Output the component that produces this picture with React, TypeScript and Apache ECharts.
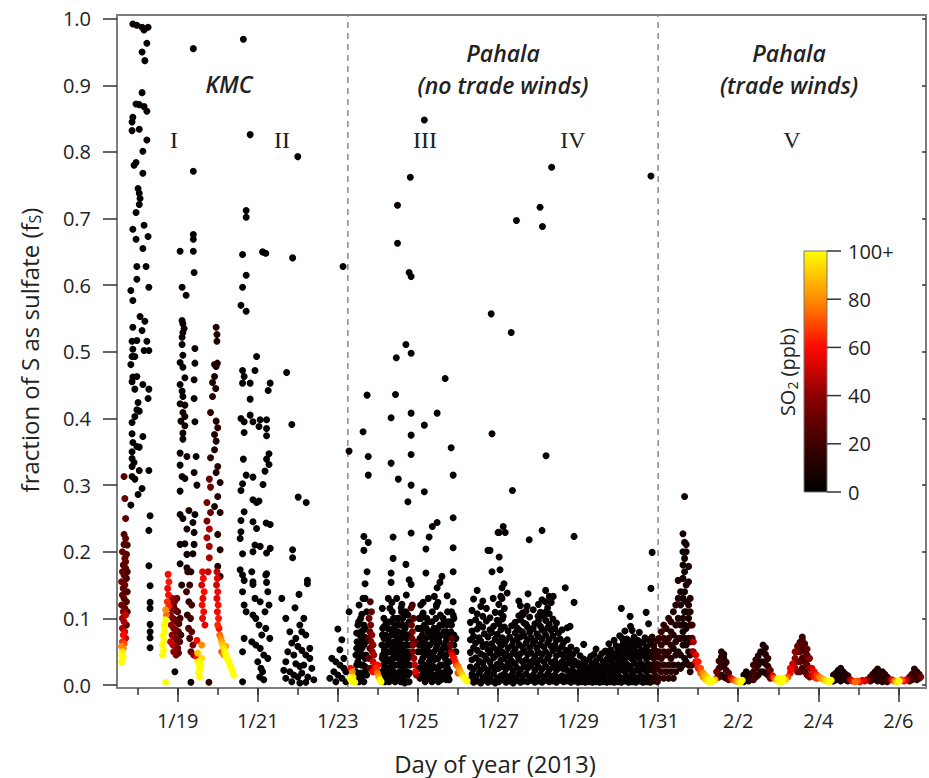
import React, { useEffect, useRef } from "react";
import * as echarts from "echarts";

// ---------- axis ticks & labels ----------
const xMajorDays = [19, 21, 23, 25, 27, 29, 31, 33, 35, 37];
const xMajorLabels = ["1/19", "1/21", "1/23", "1/25", "1/27", "1/29", "1/31", "2/2", "2/4", "2/6"];
const xMinorDays = [18, 19, 20, 21, 22, 23, 24, 25, 26, 27, 28, 29, 30, 31, 32, 33, 34, 35, 36, 37];
const yTickValues = [0, 0.1, 0.2, 0.3, 0.4, 0.5, 0.6, 0.7, 0.8, 0.9, 1.0];
const so2TickValues = [0, 20, 40, 60, 80, 100];
const so2TickLabels = ["0", "20", "40", "60", "80", "100+"];
const periodBoundaries = [23.25, 31.0];

// ---------- data: rows of [day of year, SO2 (ppb), fS, fS, ...] ----------
const kmcColumn = [
  [17.83, 2, 0.592, 0.481, 0.27],
  [17.86, 2, 0.845, 0.832, 0.516, 0.493, 0.455, 0.394, 0.377, 0.35, 0.34, 0.328, 0.313],
  [17.88, 2, 0.992, 0.852, 0.684, 0.577, 0.537, 0.504, 0.462, 0.364],
  [17.91, 2, 0.78, 0.334],
  [17.93, 2, 0.493, 0.444, 0.403, 0.309],
  [17.96, 2, 0.872, 0.784, 0.709, 0.669],
  [17.98, 2, 0.99, 0.628, 0.609, 0.517, 0.463, 0.413, 0.358],
  [18.01, 2, 0.745, 0.424, 0.286],
  [18.04, 2, 0.871, 0.834, 0.738, 0.721, 0.411, 0.357, 0.322],
  [18.06, 2, 0.73, 0.553],
  [18.11, 2, 0.987, 0.95, 0.889, 0.532, 0.295],
  [18.13, 2, 0.801, 0.768, 0.655, 0.451, 0.373],
  [18.16, 2, 0.983, 0.868, 0.69, 0.502],
  [18.18, 2, 0.937, 0.546],
  [18.21, 2, 0.628],
  [18.23, 2, 0.963, 0.861, 0.818, 0.516],
  [18.26, 2, 0.987, 0.673, 0.43],
  [18.28, 2, 0.597, 0.502, 0.444, 0.322, 0.232, 0.179],
  [18.31, 2, 0.254, 0.149, 0.124, 0.115, 0.091, 0.08, 0.071, 0.056],
  [17.62, 30, 0.2, 0.17, 0.135],
  [17.64, 28, 0.18, 0.145],
  [17.66, 25, 0.313, 0.226, 0.211, 0.165, 0.13],
  [17.68, 30, 0.28, 0.19, 0.15, 0.115],
  [17.7, 24, 0.175, 0.14],
  [17.7, 28, 0.25, 0.22, 0.185],
  [17.72, 24, 0.196, 0.16, 0.125, 0.09],
  [17.74, 20, 0.21, 0.17, 0.14, 0.11],
  [17.6, 32, 0.155, 0.12],
  [17.62, 42, 0.1, 0.085],
  [17.64, 40, 0.11],
  [17.66, 45, 0.095],
  [17.68, 55, 0.08],
  [17.7, 50, 0.105, 0.07],
  [17.64, 60, 0.075],
  [17.62, 65, 0.065],
  [17.66, 70, 0.062],
  [17.6, 80, 0.058],
  [17.64, 78, 0.055],
  [17.62, 95, 0.05],
  [17.6, 100, 0.045, 0.034],
  [17.64, 100, 0.042],
  [17.62, 100, 0.038],
];

const kmcPeriodI = [
  [19.06, 3, 0.651, 0.484, 0.451, 0.422, 0.348, 0.33, 0.291, 0.256, 0.211, 0.182],
  [19.08, 3, 0.396],
  [19.11, 3, 0.597, 0.547, 0.522, 0.511, 0.441, 0.313],
  [19.13, 3, 0.542, 0.529, 0.495, 0.477, 0.433, 0.409, 0.378, 0.369, 0.25],
  [19.16, 3, 0.535],
  [19.18, 5, 0.461, 0.42, 0.403, 0.389, 0.31, 0.212],
  [19.21, 3, 0.585],
  [19.23, 8, 0.343, 0.234, 0.196, 0.176],
  [19.28, 8, 0.262],
  [19.33, 8, 0.17],
  [19.38, 3, 0.244, 0.197],
  [19.39, 2, 0.955, 0.771, 0.676, 0.669, 0.651],
  [19.41, 3, 0.619, 0.458, 0.43, 0.319, 0.229, 0.211],
  [19.43, 3, 0.505, 0.483, 0.395, 0.256],
  [19.46, 3, 0.343],
  [19.48, 3, 0.3],
  [18.74, 65, 0.125],
  [18.75, 58, 0.145],
  [18.76, 60, 0.166],
  [18.77, 60, 0.135],
  [18.78, 62, 0.155, 0.118],
  [18.7, 80, 0.113],
  [18.72, 75, 0.105],
  [18.7, 100, 0.098, 0.004],
  [18.66, 100, 0.09, 0.068],
  [18.68, 100, 0.082],
  [18.64, 100, 0.075],
  [18.62, 100, 0.06, 0.045],
  [18.65, 100, 0.052],
  [18.8, 40, 0.12],
  [18.82, 38, 0.105],
  [18.82, 50, 0.065],
  [18.84, 42, 0.09],
  [18.85, 35, 0.115],
  [18.86, 40, 0.075, 0.13],
  [18.88, 33, 0.1],
  [18.88, 45, 0.06],
  [18.9, 30, 0.118],
  [18.9, 36, 0.085],
  [18.9, 40, 0.05],
  [18.92, 35, 0.072, 0.125],
  [18.93, 30, 0.098],
  [18.94, 38, 0.058],
  [18.95, 28, 0.112],
  [18.96, 30, 0.082],
  [18.96, 35, 0.045],
  [18.98, 26, 0.095],
  [18.98, 30, 0.068, 0.13],
  [19.0, 25, 0.11],
  [19.0, 30, 0.055],
  [19.02, 25, 0.08],
  [19.02, 28, 0.048],
  [19.03, 22, 0.092],
  [19.05, 22, 0.065],
  [19.06, 20, 0.1],
  [19.08, 18, 0.075],
  [18.93, 3, 0.02],
  [19.33, 3, 0.004],
  [19.1, 10, 0.15],
  [19.22, 20, 0.14],
  [19.24, 18, 0.105],
  [19.25, 15, 0.17],
  [19.27, 25, 0.085],
  [19.28, 15, 0.125],
  [19.3, 18, 0.15],
  [19.3, 22, 0.07],
  [19.32, 20, 0.1],
  [19.33, 30, 0.05],
  [19.35, 22, 0.12],
  [19.35, 28, 0.08],
  [19.38, 35, 0.06],
  [19.4, 40, 0.045],
  [19.48, 60, 0.067, 0.042],
  [19.5, 100, 0.035],
  [19.53, 100, 0.028],
  [19.56, 100, 0.022],
  [19.52, 100, 0.018],
  [19.58, 100, 0.03],
  [19.55, 100, 0.012],
  [19.6, 95, 0.04],
  [19.5, 90, 0.048],
  [19.6, 80, 0.06],
  [19.62, 55, 0.17, 0.1],
  [19.64, 58, 0.16],
  [19.6, 52, 0.15],
  [19.66, 60, 0.14],
  [19.63, 56, 0.13],
  [19.61, 60, 0.12],
  [19.65, 58, 0.11],
  [19.68, 55, 0.09],
  [19.78, 15, 0.004],
  [19.96, 10, 0.537, 0.478, 0.396, 0.366, 0.319],
  [19.98, 10, 0.526, 0.516],
  [19.92, 10, 0.481, 0.463, 0.376, 0.353, 0.268],
  [19.99, 10, 0.483],
  [19.87, 12, 0.454, 0.433],
  [19.95, 10, 0.445],
  [19.82, 15, 0.409, 0.341],
  [20.0, 12, 0.386, 0.328, 0.283, 0.226, 0.178],
  [19.79, 30, 0.309],
  [20.06, 12, 0.304, 0.259, 0.203, 0.163],
  [19.82, 30, 0.297, 0.259],
  [19.73, 35, 0.274, 0.246],
  [19.79, 45, 0.234, 0.208, 0.191],
  [19.73, 45, 0.221],
  [19.76, 50, 0.17],
  [19.98, 50, 0.17],
  [19.99, 55, 0.16],
  [19.97, 52, 0.15],
  [20.0, 58, 0.14],
  [19.98, 55, 0.13],
  [20.01, 60, 0.12],
  [19.99, 58, 0.11],
  [20.02, 62, 0.1],
  [20.0, 65, 0.09],
  [20.03, 60, 0.085],
  [20.05, 75, 0.075],
  [20.08, 80, 0.07],
  [20.1, 85, 0.065],
  [20.12, 90, 0.06],
  [20.15, 95, 0.055],
  [20.18, 100, 0.05],
  [20.2, 100, 0.045],
  [20.22, 100, 0.042],
  [20.25, 100, 0.038],
  [20.28, 100, 0.035],
  [20.3, 100, 0.03],
  [20.33, 100, 0.026],
  [20.36, 100, 0.022],
  [20.4, 100, 0.015],
  [20.1, 70, 0.05],
  [20.14, 80, 0.046],
  [20.2, 85, 0.058],
];

const kmcPeriodII = [
  [20.56, 2, 0.22, 0.173],
  [20.58, 2, 0.57, 0.4, 0.292, 0.247, 0.23],
  [20.62, 2, 0.646, 0.597, 0.472, 0.453, 0.302, 0.197, 0.165, 0.14, 0.05, 0.005],
  [20.64, 2, 0.969, 0.339],
  [20.66, 2, 0.463, 0.395, 0.379, 0.26, 0.157, 0.12, 0.07],
  [20.71, 2, 0.712, 0.702, 0.615, 0.561, 0.315, 0.11],
  [20.81, 2, 0.826, 0.453, 0.429, 0.405],
  [20.85, 2, 0.17, 0.065],
  [20.88, 2, 0.395, 0.312, 0.278, 0.245, 0.2, 0.151, 0.155, 0.105],
  [20.93, 2, 0.472, 0.21, 0.13],
  [20.95, 2, 0.1, 0.06],
  [20.97, 2, 0.493, 0.274, 0.235],
  [21.0, 2, 0.035],
  [21.03, 2, 0.388, 0.276, 0.09],
  [21.05, 2, 0.012],
  [21.06, 2, 0.398, 0.208, 0.125, 0.055],
  [21.08, 2, 0.025],
  [21.1, 2, 0.075],
  [21.12, 2, 0.65, 0.02],
  [21.13, 2, 0.301],
  [21.15, 2, 0.045, 0.008],
  [21.18, 2, 0.321, 0.11],
  [21.2, 2, 0.648, 0.165, 0.085],
  [21.21, 2, 0.243],
  [21.22, 2, 0.398, 0.385, 0.374, 0.339, 0.198, 0.167, 0.154],
  [21.25, 2, 0.14, 0.04],
  [21.26, 2, 0.442],
  [21.28, 2, 0.347, 0.331, 0.12],
  [21.3, 2, 0.07],
  [21.31, 2, 0.453, 0.241, 0.205],
  [21.72, 2, 0.469],
  [21.85, 2, 0.391],
  [21.87, 2, 0.641, 0.203, 0.191],
  [22.0, 2, 0.793],
  [22.01, 2, 0.282],
  [22.21, 2, 0.274],
  [22.24, 2, 0.157],
  [21.6, 2, 0.13],
  [21.65, 2, 0.022],
  [21.7, 2, 0.1, 0.035, 0.01],
  [21.75, 2, 0.05],
  [21.8, 2, 0.08, 0.02],
  [21.85, 2, 0.063, 0.005],
  [21.9, 2, 0.045, 0.015],
  [21.93, 2, 0.116],
  [21.95, 2, 0.07, 0.032],
  [22.0, 2, 0.058, 0.012],
  [22.03, 2, 0.136],
  [22.05, 2, 0.09, 0.028, 0.003],
  [22.1, 2, 0.08, 0.052, 0.018],
  [22.15, 2, 0.1, 0.03],
  [22.2, 2, 0.075, 0.045, 0.004],
  [22.24, 2, 0.152],
  [22.25, 2, 0.012],
  [22.3, 2, 0.055, 0.04],
  [22.35, 2, 0.025],
  [22.4, 2, 0.008],
  [22.8, 2, 0.01],
  [22.85, 2, 0.04],
  [22.9, 2, 0.02],
  [22.95, 2, 0.035, 0.005],
  [23.0, 2, 0.084, 0.015],
  [23.05, 2, 0.053, 0.03],
  [23.1, 2, 0.068, 0.01],
  [23.13, 2, 0.628],
  [23.15, 2, 0.04, 0.025],
  [23.2, 2, 0.02, 0.005],
];

const pahalaNoTradeSparse = [
  [23.28, 2, 0.351, 0.11],
  [23.6, 2, 0.106],
  [23.63, 2, 0.38],
  [23.65, 2, 0.223, 0.202],
  [23.68, 2, 0.152, 0.13],
  [23.73, 2, 0.435, 0.17],
  [23.76, 2, 0.343, 0.315, 0.214],
  [24.3, 2, 0.115],
  [24.33, 2, 0.401, 0.333, 0.168, 0.154],
  [24.35, 2, 0.124],
  [24.38, 2, 0.222, 0.19],
  [24.44, 2, 0.436],
  [24.46, 2, 0.491],
  [24.49, 2, 0.72, 0.663],
  [24.51, 2, 0.309],
  [24.58, 2, 0.116],
  [24.6, 2, 0.121],
  [24.7, 2, 0.511, 0.181],
  [24.75, 2, 0.275],
  [24.78, 2, 0.619, 0.158],
  [24.81, 2, 0.762],
  [24.83, 2, 0.613, 0.498, 0.408, 0.375, 0.346, 0.3, 0.228, 0.151],
  [24.83, 25, 0.116],
  [25.13, 2, 0.124, 0.108],
  [25.16, 2, 0.848, 0.39, 0.29],
  [25.2, 2, 0.204, 0.168],
  [25.28, 2, 0.222],
  [25.36, 2, 0.238],
  [25.41, 2, 0.133],
  [25.46, 2, 0.12],
  [25.48, 2, 0.408, 0.244, 0.146],
  [25.5, 2, 0.124],
  [25.55, 2, 0.154],
  [25.6, 2, 0.163],
  [25.68, 2, 0.46],
  [25.73, 2, 0.134],
  [25.82, 2, 0.08, 0.095],
  [25.83, 2, 0.356],
  [25.84, 2, 0.09, 0.11],
  [25.88, 2, 0.315, 0.251, 0.206, 0.17, 0.125, 0.105],
  [25.9, 2, 0.06, 0.075, 0.1],
  [25.95, 2, 0.05, 0.07],
  [26.75, 2, 0.202],
  [26.8, 2, 0.202],
  [26.83, 2, 0.557],
  [26.85, 2, 0.377, 0.17],
  [26.88, 2, 0.13],
  [26.93, 2, 0.109],
  [27.0, 2, 0.229],
  [27.03, 2, 0.229, 0.192],
  [27.05, 2, 0.173],
  [27.1, 2, 0.146, 0.13, 0.086],
  [27.13, 2, 0.238, 0.103],
  [27.15, 2, 0.152],
  [27.18, 2, 0.229],
  [27.23, 2, 0.138],
  [27.33, 2, 0.529],
  [27.36, 2, 0.292],
  [27.46, 2, 0.697],
  [27.63, 2, 0.106],
  [27.73, 2, 0.118],
  [27.75, 2, 0.137],
  [27.78, 2, 0.218],
  [28.0, 2, 0.103],
  [28.05, 2, 0.717],
  [28.1, 2, 0.232, 0.104],
  [28.11, 2, 0.688],
  [28.18, 2, 0.125],
  [28.2, 2, 0.344, 0.11],
  [28.28, 2, 0.133],
  [28.34, 2, 0.777],
  [28.38, 2, 0.133],
  [28.68, 2, 0.146],
  [28.73, 2, 0.086],
  [28.8, 2, 0.088],
  [28.9, 2, 0.223, 0.124],
  [29.4, 2, 0.046],
  [29.73, 2, 0.05],
  [30.0, 2, 0.05],
  [30.08, 2, 0.115],
  [30.1, 2, 0.07],
  [30.3, 2, 0.103],
  [30.35, 2, 0.082],
  [30.38, 2, 0.062],
  [30.7, 2, 0.109],
  [30.82, 2, 0.764, 0.145],
  [30.85, 2, 0.199, 0.068],
];

const pahalaNoTradeDenseA = [
  [23.3, 100, 0.01],
  [23.32, 60, 0.025],
  [23.34, 100, 0.006],
  [23.36, 80, 0.02],
  [23.38, 95, 0.012],
  [23.42, 100, 0.004],
  [23.45, 2, 0.02, 0.045],
  [23.47, 2, 0.03, 0.055, 0.078],
  [23.48, 2, 0.065, 0.008],
  [23.5, 2, 0.035, 0.09],
  [23.52, 2, 0.095, 0.015],
  [23.53, 2, 0.005, 0.042, 0.062, 0.12],
  [23.55, 2, 0.012, 0.05, 0.075],
  [23.57, 2, 0.018, 0.066, 0.1],
  [23.58, 2, 0.08, 0.03],
  [23.6, 2, 0.012, 0.055],
  [23.62, 2, 0.03, 0.07],
  [23.63, 2, 0.044, 0.082, 0.13],
  [23.65, 2, 0.06, 0.005, 0.09],
  [23.67, 2, 0.028, 0.072],
  [23.68, 2, 0.085, 0.04, 0.02],
  [23.7, 2, 0.045, 0.065],
  [23.72, 2, 0.015, 0.11],
  [23.76, 25, 0.07],
  [23.78, 30, 0.1, 0.04],
  [23.8, 30, 0.08, 0.025],
  [23.8, 28, 0.055],
  [23.81, 22, 0.125],
  [23.82, 35, 0.09],
  [23.83, 35, 0.065],
  [23.84, 28, 0.11],
  [23.85, 38, 0.075],
  [23.86, 42, 0.05],
  [23.87, 60, 0.02],
  [23.88, 40, 0.06],
  [23.88, 50, 0.035],
  [23.9, 45, 0.045],
  [23.92, 55, 0.03],
  [23.96, 65, 0.025],
  [23.99, 75, 0.018],
  [24.0, 60, 0.03],
  [24.02, 85, 0.012],
  [24.05, 100, 0.008],
  [24.08, 100, 0.005],
  [24.1, 2, 0.02, 0.06],
  [24.11, 2, 0.04, 0.075, 0.115],
  [24.12, 2, 0.045, 0.085],
  [24.14, 2, 0.012, 0.03],
  [24.15, 2, 0.07, 0.1],
  [24.16, 2, 0.022, 0.052, 0.088],
  [24.18, 2, 0.005, 0.04],
  [24.2, 2, 0.035, 0.075],
  [24.21, 2, 0.008, 0.048, 0.095],
  [24.22, 2, 0.06, 0.015],
  [24.25, 2, 0.085, 0.025, 0.05],
  [24.26, 2, 0.015, 0.038, 0.072, 0.13],
  [24.28, 2, 0.005, 0.025, 0.065],
  [24.3, 2, 0.05, 0.095],
  [24.31, 2, 0.012, 0.035, 0.063],
  [24.33, 2, 0.075, 0.015],
  [24.35, 2, 0.028, 0.058, 0.082],
  [24.36, 2, 0.015, 0.04, 0.11],
  [24.38, 2, 0.04, 0.06],
  [24.39, 2, 0.02, 0.05, 0.1],
  [24.4, 2, 0.065, 0.01, 0.085],
  [24.42, 2, 0.09, 0.03],
  [24.43, 2, 0.005, 0.045, 0.075],
  [24.45, 2, 0.008, 0.05],
  [24.46, 2, 0.03, 0.075],
  [24.47, 2, 0.015, 0.042, 0.066, 0.13],
  [24.48, 2, 0.055, 0.1],
  [24.5, 2, 0.08, 0.018],
  [24.51, 2, 0.03, 0.06, 0.09],
  [24.52, 2, 0.1, 0.04],
  [24.54, 2, 0.008, 0.05, 0.078],
  [24.55, 2, 0.02, 0.065],
  [24.57, 2, 0.045, 0.005],
  [24.58, 2, 0.07, 0.09],
  [24.59, 2, 0.014, 0.038, 0.058, 0.11],
  [24.6, 2, 0.09, 0.03],
  [24.62, 2, 0.025, 0.072, 0.1],
  [24.63, 2, 0.01, 0.055],
  [24.65, 2, 0.035, 0.08],
  [24.66, 2, 0.06, 0.105],
  [24.67, 2, 0.003, 0.045, 0.075],
  [24.68, 2, 0.085, 0.015],
  [24.7, 2, 0.11, 0.045],
  [24.71, 2, 0.03, 0.06, 0.09, 0.135],
  [24.72, 2, 0.02, 0.07],
  [24.74, 2, 0.05, 0.005],
  [24.75, 2, 0.015, 0.04, 0.105],
  [24.76, 2, 0.075, 0.03],
  [24.78, 2, 0.005, 0.095],
  [24.79, 2, 0.018, 0.045, 0.075],
  [24.8, 2, 0.03, 0.06],
  [24.84, 30, 0.09],
  [24.85, 32, 0.07],
  [24.86, 35, 0.08],
  [24.86, 20, 0.12],
  [24.87, 35, 0.05],
  [24.88, 38, 0.06],
  [24.89, 25, 0.1],
  [24.9, 42, 0.04],
  [24.92, 48, 0.03],
  [24.92, 30, 0.065],
  [24.94, 55, 0.02],
  [24.96, 40, 0.015],
  [25.0, 2, 0.05, 0.085],
  [25.03, 2, 0.025, 0.06, 0.1],
  [25.05, 2, 0.01, 0.07],
  [25.07, 2, 0.05, 0.085, 0.12],
  [25.08, 2, 0.035, 0.1],
  [25.1, 2, 0.06, 0.015],
  [25.11, 2, 0.025, 0.075, 0.105],
  [25.12, 2, 0.085, 0.04],
  [25.15, 2, 0.02, 0.065],
  [25.16, 2, 0.01, 0.055, 0.09],
  [25.18, 2, 0.045, 0.005],
  [25.2, 2, 0.07, 0.03],
  [25.21, 2, 0.015, 0.045, 0.085],
  [25.22, 2, 0.1, 0.055],
  [25.25, 2, 0.012, 0.08],
  [25.26, 2, 0.025, 0.05, 0.095, 0.13],
  [25.28, 2, 0.035, 0.06],
  [25.3, 2, 0.06, 0.01],
  [25.31, 2, 0.02, 0.045, 0.075],
  [25.32, 2, 0.08, 0.04],
  [25.35, 2, 0.005, 0.025, 0.095],
  [25.36, 2, 0.045, 0.07, 0.11],
  [25.38, 2, 0.028, 0.065],
  [25.4, 2, 0.05, 0.085],
  [25.41, 2, 0.012, 0.038, 0.07],
  [25.43, 2, 0.075, 0.015],
  [25.45, 2, 0.1, 0.04],
  [25.46, 2, 0.025, 0.055, 0.08, 0.118],
  [25.48, 2, 0.015, 0.06],
  [25.5, 2, 0.04, 0.085],
  [25.51, 2, 0.005, 0.025, 0.07],
  [25.53, 2, 0.065, 0.01],
  [25.55, 2, 0.09, 0.03],
  [25.56, 2, 0.018, 0.045, 0.075, 0.105],
  [25.58, 2, 0.008, 0.05],
  [25.6, 2, 0.03, 0.075],
  [25.61, 2, 0.012, 0.045, 0.09],
  [25.63, 2, 0.055, 0.1],
  [25.65, 2, 0.08, 0.015],
  [25.66, 2, 0.03, 0.06, 0.095],
  [25.68, 2, 0.02, 0.04],
  [25.7, 2, 0.045, 0.065],
  [25.71, 2, 0.008, 0.03, 0.08],
  [25.72, 2, 0.07, 0.09],
  [25.74, 2, 0.025, 0.055, 0.11],
  [25.75, 2, 0.012, 0.035],
  [25.76, 2, 0.095, 0.055],
  [25.78, 2, 0.035, 0.008],
  [25.79, 2, 0.02, 0.05, 0.075],
  [25.8, 30, 0.06],
  [25.83, 45, 0.05],
  [25.85, 25, 0.07],
  [25.86, 55, 0.045],
  [25.9, 60, 0.04],
  [25.93, 62, 0.035],
  [25.96, 68, 0.03],
  [26.0, 75, 0.028],
  [26.0, 70, 0.018],
  [26.03, 80, 0.024],
  [26.06, 85, 0.02],
  [26.1, 90, 0.016],
  [26.13, 95, 0.013],
  [26.16, 100, 0.01],
  [26.2, 100, 0.008],
  [26.23, 100, 0.006],
];

const pahalaNoTradeDenseB = [
  [26.31, 2, 0.008, 0.027, 0.049, 0.068, 0.094],
  [26.35, 2, 0.016, 0.038, 0.081, 0.112],
  [26.39, 2, 0.004, 0.024, 0.056, 0.073, 0.129],
  [26.44, 2, 0.013, 0.041, 0.063, 0.098],
  [26.48, 2, 0.006, 0.029, 0.052, 0.084, 0.107, 0.142],
  [26.53, 2, 0.018, 0.036, 0.071, 0.091],
  [26.57, 2, 0.003, 0.022, 0.047, 0.066, 0.118],
  [26.62, 2, 0.011, 0.033, 0.058, 0.087, 0.103, 0.126],
  [26.66, 2, 0.007, 0.026, 0.044, 0.077],
  [26.71, 2, 0.015, 0.039, 0.061, 0.096, 0.115],
  [26.75, 2, 0.004, 0.021, 0.053, 0.072],
  [26.8, 2, 0.012, 0.034, 0.048, 0.083, 0.101],
  [26.84, 2, 0.006, 0.027, 0.062, 0.079],
  [26.89, 2, 0.017, 0.041, 0.056, 0.088],
  [26.93, 2, 0.003, 0.023, 0.044, 0.069],
  [26.98, 2, 0.01, 0.031, 0.052, 0.076, 0.097],
  [27.02, 2, 0.005, 0.025, 0.047, 0.065, 0.092, 0.121],
  [27.07, 2, 0.014, 0.037, 0.058, 0.083, 0.108, 0.133],
  [27.11, 2, 0.008, 0.028, 0.049, 0.071, 0.099],
  [27.16, 2, 0.017, 0.04, 0.062, 0.087, 0.115],
  [27.2, 2, 0.004, 0.024, 0.046, 0.067],
  [27.25, 2, 0.012, 0.033, 0.055, 0.081],
  [27.29, 2, 0.006, 0.027, 0.043, 0.072],
  [27.34, 2, 0.015, 0.036, 0.059, 0.089],
  [27.38, 2, 0.003, 0.021, 0.048, 0.066],
  [27.43, 2, 0.011, 0.032, 0.054, 0.078, 0.094],
  [27.47, 2, 0.007, 0.026, 0.045, 0.069, 0.086],
  [27.52, 2, 0.016, 0.039, 0.061, 0.083, 0.104, 0.126],
  [27.56, 2, 0.004, 0.023, 0.047, 0.072, 0.098, 0.119],
  [27.61, 2, 0.013, 0.035, 0.057, 0.08, 0.108],
  [27.65, 2, 0.006, 0.028, 0.051, 0.074, 0.093],
  [27.7, 2, 0.017, 0.038, 0.063, 0.091, 0.111],
  [27.74, 2, 0.005, 0.025, 0.046, 0.068, 0.087],
  [27.79, 2, 0.012, 0.034, 0.056, 0.079, 0.102],
  [27.83, 2, 0.007, 0.029, 0.048, 0.071],
  [27.88, 2, 0.015, 0.037, 0.062, 0.085, 0.113],
  [27.92, 2, 0.004, 0.022, 0.043, 0.066, 0.092],
  [27.97, 2, 0.011, 0.033, 0.055, 0.077],
  [28.01, 2, 0.006, 0.027, 0.049, 0.073, 0.096, 0.121],
  [28.06, 2, 0.016, 0.038, 0.061, 0.088, 0.109],
  [28.1, 2, 0.004, 0.024, 0.046, 0.069, 0.083, 0.128],
  [28.15, 2, 0.012, 0.035, 0.057, 0.081, 0.103],
  [28.19, 2, 0.007, 0.028, 0.05, 0.075, 0.097, 0.142],
  [28.24, 2, 0.017, 0.04, 0.063, 0.086, 0.116],
  [28.28, 2, 0.005, 0.023, 0.045, 0.068, 0.091, 0.107],
  [28.33, 2, 0.013, 0.034, 0.058, 0.082, 0.124],
  [28.37, 2, 0.006, 0.027, 0.052, 0.074, 0.099],
  [28.42, 2, 0.015, 0.036, 0.06, 0.085],
  [28.46, 2, 0.004, 0.022, 0.044, 0.067, 0.093],
  [28.51, 2, 0.011, 0.031, 0.054, 0.078],
  [28.55, 2, 0.007, 0.026, 0.047, 0.069],
  [28.6, 2, 0.014, 0.035, 0.058, 0.083],
  [28.64, 2, 0.005, 0.024, 0.043, 0.064],
  [28.69, 2, 0.012, 0.031, 0.052],
  [28.73, 2, 0.006, 0.022, 0.041, 0.068],
  [28.78, 2, 0.014, 0.033, 0.049],
  [28.82, 2, 0.004, 0.021, 0.038, 0.057],
  [28.87, 2, 0.011, 0.029, 0.046],
  [28.91, 2, 0.006, 0.019, 0.036],
  [28.96, 2, 0.013, 0.03, 0.052],
  [29.0, 2, 0.004, 0.018, 0.033],
  [29.05, 2, 0.01, 0.026, 0.044],
  [29.09, 2, 0.005, 0.02, 0.031],
  [29.14, 2, 0.012, 0.027, 0.039, 0.061],
  [29.18, 2, 0.004, 0.017, 0.034],
  [29.23, 2, 0.009, 0.025],
  [29.27, 2, 0.005, 0.019, 0.038],
  [29.32, 2, 0.011, 0.028, 0.043],
  [29.36, 2, 0.004, 0.016, 0.032],
  [29.41, 2, 0.009, 0.024],
  [29.45, 2, 0.005, 0.018, 0.036, 0.054],
  [29.5, 2, 0.012, 0.029],
  [29.54, 2, 0.004, 0.02, 0.041],
  [29.59, 2, 0.01, 0.026, 0.047],
  [29.63, 2, 0.005, 0.018, 0.035],
  [29.68, 2, 0.012, 0.03, 0.051],
  [29.72, 2, 0.004, 0.021, 0.039],
  [29.77, 2, 0.01, 0.027, 0.045, 0.062],
  [29.81, 2, 0.005, 0.019, 0.036, 0.053],
  [29.86, 2, 0.013, 0.031, 0.048],
  [29.9, 2, 0.004, 0.022, 0.041, 0.067],
  [29.95, 2, 0.01, 0.028, 0.046, 0.059],
  [29.99, 2, 0.005, 0.018, 0.037, 0.055],
  [30.04, 2, 0.012, 0.032, 0.049, 0.074],
  [30.08, 2, 0.004, 0.023, 0.041, 0.058],
  [30.13, 2, 0.01, 0.029, 0.047, 0.063],
  [30.17, 2, 0.006, 0.02, 0.038, 0.056, 0.081],
  [30.22, 2, 0.013, 0.031, 0.052, 0.069],
  [30.26, 2, 0.004, 0.024, 0.043, 0.061],
  [30.31, 2, 0.01, 0.028, 0.047, 0.066, 0.088],
  [30.35, 2, 0.005, 0.019, 0.039, 0.057],
  [30.4, 2, 0.012, 0.033, 0.051, 0.072],
  [30.44, 2, 0.004, 0.022, 0.042, 0.059],
  [30.49, 2, 0.011, 0.03, 0.049, 0.067],
  [30.53, 2, 0.006, 0.021, 0.04, 0.061, 0.079],
  [30.58, 2, 0.013, 0.032, 0.053],
  [30.62, 2, 0.004, 0.024, 0.045, 0.064],
  [30.67, 2, 0.01, 0.029, 0.048, 0.071],
  [30.71, 2, 0.005, 0.02, 0.039, 0.057],
  [30.76, 4, 0.012, 0.031, 0.05, 0.068, 0.092],
  [30.8, 6, 0.004, 0.023, 0.043, 0.062],
  [30.85, 8, 0.011, 0.03, 0.049, 0.072],
  [30.89, 10, 0.006, 0.021, 0.04, 0.058],
  [30.94, 12, 0.013, 0.032, 0.051],
  [30.98, 14, 0.005, 0.024, 0.043, 0.066],
];

const pahalaTrade = [
  [31.02, 15, 0.01, 0.03, 0.05, 0.07],
  [31.08, 18, 0.02, 0.04, 0.06, 0.08],
  [31.14, 15, 0.01, 0.03, 0.05, 0.07, 0.09],
  [31.2, 12, 0.02, 0.045, 0.065, 0.085],
  [31.26, 15, 0.01, 0.03, 0.05, 0.07, 0.1],
  [31.32, 12, 0.02, 0.04, 0.06, 0.08, 0.095],
  [31.38, 10, 0.01, 0.03, 0.055, 0.075, 0.11],
  [31.44, 12, 0.02, 0.045, 0.065, 0.09, 0.12],
  [31.5, 10, 0.03, 0.05, 0.07, 0.1, 0.13, 0.157],
  [31.56, 8, 0.025, 0.045, 0.07, 0.09, 0.12, 0.14],
  [31.62, 5, 0.03, 0.06, 0.08, 0.1, 0.13, 0.16, 0.18, 0.2, 0.227],
  [31.66, 5, 0.04, 0.07, 0.09, 0.11, 0.14, 0.17, 0.19, 0.214, 0.283],
  [31.7, 8, 0.035, 0.06, 0.085, 0.11, 0.125, 0.15, 0.2, 0.211],
  [31.76, 10, 0.03, 0.05, 0.07, 0.1, 0.12, 0.155, 0.178],
  [31.8, 12, 0.02, 0.045, 0.065, 0.09, 0.11, 0.13],
  [31.85, 20, 0.03, 0.05, 0.07, 0.09],
  [31.88, 45, 0.065, 0.05],
  [31.94, 55, 0.045, 0.035],
  [32.0, 62, 0.035, 0.025],
  [32.06, 70, 0.025, 0.018],
  [32.12, 80, 0.018, 0.012],
  [32.18, 88, 0.014, 0.009],
  [32.24, 95, 0.01, 0.006],
  [32.3, 100, 0.008, 0.004],
  [32.36, 100, 0.006],
  [32.42, 90, 0.008],
  [32.46, 30, 0.01, 0.02],
  [32.52, 18, 0.012, 0.025, 0.036],
  [32.58, 12, 0.015, 0.03, 0.042, 0.05],
  [32.64, 10, 0.012, 0.028, 0.04, 0.046],
  [32.7, 15, 0.01, 0.022, 0.034],
  [32.76, 25, 0.008, 0.018],
  [32.82, 50, 0.01],
  [32.88, 65, 0.008],
  [32.94, 80, 0.006],
  [33.0, 90, 0.005],
  [33.06, 100, 0.004],
  [33.1, 100, 0.007],
  [33.14, 3, 0.005, 0.015],
  [33.2, 3, 0.008, 0.02],
  [33.26, 8, 0.006, 0.016],
  [33.32, 15, 0.01],
  [33.38, 20, 0.008, 0.02, 0.03],
  [33.44, 15, 0.012, 0.026, 0.038],
  [33.5, 12, 0.015, 0.03, 0.044],
  [33.56, 10, 0.02, 0.035, 0.05],
  [33.62, 8, 0.02, 0.035, 0.05, 0.06],
  [33.68, 10, 0.018, 0.032, 0.046, 0.056],
  [33.74, 15, 0.015, 0.028, 0.04],
  [33.8, 30, 0.01, 0.022],
  [33.86, 55, 0.014],
  [33.9, 70, 0.01],
  [33.95, 85, 0.008],
  [34.0, 100, 0.006, 0.01],
  [34.06, 100, 0.005, 0.009],
  [34.12, 100, 0.006, 0.01],
  [34.18, 90, 0.008],
  [34.24, 70, 0.012],
  [34.3, 58, 0.018, 0.025],
  [34.36, 50, 0.025, 0.032],
  [34.42, 40, 0.025, 0.04, 0.05],
  [34.48, 30, 0.02, 0.035, 0.05, 0.058],
  [34.54, 25, 0.02, 0.035, 0.05, 0.064],
  [34.6, 20, 0.025, 0.04, 0.055, 0.068, 0.072],
  [34.66, 22, 0.02, 0.035, 0.05, 0.062],
  [34.72, 28, 0.015, 0.03, 0.045, 0.054],
  [34.78, 38, 0.012, 0.025, 0.04],
  [34.84, 50, 0.025, 0.015],
  [34.9, 58, 0.02, 0.012],
  [34.96, 66, 0.015, 0.01],
  [35.02, 75, 0.012],
  [35.08, 82, 0.01],
  [35.14, 88, 0.008],
  [35.2, 95, 0.006],
  [35.26, 100, 0.005],
  [35.32, 100, 0.007],
  [35.38, 8, 0.006, 0.015],
  [35.44, 3, 0.008, 0.018],
  [35.5, 3, 0.01, 0.022],
  [35.56, 8, 0.006, 0.015, 0.025],
  [35.62, 10, 0.01, 0.02],
  [35.68, 8, 0.008, 0.016],
  [35.74, 12, 0.006, 0.014],
  [35.8, 45, 0.008],
  [35.86, 60, 0.006],
  [35.92, 75, 0.005],
  [35.98, 70, 0.006],
  [36.04, 60, 0.005],
  [36.1, 55, 0.007],
  [36.16, 50, 0.006],
  [36.22, 40, 0.008],
  [36.3, 20, 0.006, 0.012],
  [36.36, 12, 0.008, 0.016],
  [36.42, 8, 0.01, 0.02],
  [36.48, 10, 0.006, 0.015, 0.024],
  [36.54, 15, 0.008, 0.018],
  [36.6, 10, 0.005, 0.012, 0.02],
  [36.66, 8, 0.008, 0.016],
  [36.72, 15, 0.005, 0.012],
  [36.78, 30, 0.008],
  [36.84, 55, 0.008],
  [36.9, 75, 0.006],
  [36.96, 95, 0.005],
  [37.02, 100, 0.006],
  [37.08, 70, 0.008],
  [37.14, 60, 0.006],
  [37.2, 50, 0.008],
  [37.28, 25, 0.006, 0.012],
  [37.34, 15, 0.008, 0.016],
  [37.4, 12, 0.01, 0.018, 0.024],
  [37.46, 15, 0.008, 0.02],
  [37.52, 20, 0.01, 0.016],
  [37.56, 30, 0.012],
];

// ---------- layout / style constants ----------
const X_MIN = 17.484;
const X_MAX = 37.69;
const Y_MIN = -0.0045;
const Y_MAX = 1.0055;
const FONT = "'Open Sans', 'Noto Sans', sans-serif";
const TEXT = "#222";
const AXIS_GREY = "#7d7d7d";
const so2Colors = ["#000000", "#3e0000", "#8e0000", "#ff0800", "#ff8c00", "#ffff00"];
const CB = { x: 804, y: 251, w: 23, h: 241 };

const toPoints = (rows: number[][]) =>
  rows.flatMap((r) => r.slice(2).map((fs) => [r[0], fs, r[1]]));

export default function App() {
  const ref = useRef<HTMLDivElement>(null);

  useEffect(() => {
    if (!ref.current) return;
    const chart = echarts.init(ref.current, undefined, { renderer: "svg" });

    const points = [
      ...toPoints(kmcColumn),
      ...toPoints(kmcPeriodI),
      ...toPoints(kmcPeriodII),
      ...toPoints(pahalaNoTradeSparse),
      ...toPoints(pahalaNoTradeDenseA),
      ...toPoints(pahalaNoTradeDenseB),
      ...toPoints(pahalaTrade),
    ].sort((a, b) => a[2] - b[2]);

    const gradStops = so2TickValues
      .map((v, i) => ({ offset: 1 - v / 100, color: so2Colors[i] }))
      .reverse();

    const cbElements: any[] = [
      {
        type: "rect",
        shape: { x: CB.x, y: CB.y, width: CB.w, height: CB.h },
        style: {
          fill: new echarts.graphic.LinearGradient(0, 0, 0, 1, gradStops),
          stroke: "#777",
          lineWidth: 1,
        },
        z: 10,
      },
    ];
    so2TickValues.forEach((v, i) => {
      const y = CB.y + CB.h * (1 - v / 100);
      cbElements.push({
        type: "line",
        shape: { x1: CB.x + CB.w, y1: y, x2: CB.x + CB.w + 14, y2: y },
        style: { stroke: "#333", lineWidth: 1.5 },
        z: 10,
      });
      cbElements.push({
        type: "text",
        x: CB.x + CB.w + 21,
        y: y,
        style: {
          text: so2TickLabels[i],
          fontSize: 20,
          fontFamily: FONT,
          fill: TEXT,
          align: "left",
          verticalAlign: "middle",
        },
        z: 10,
      });
    });

    const annot = (text: string, x: number, y: number, serif = false) => ({
      type: "text",
      x,
      y,
      style: {
        text,
        fontSize: serif ? 24 : 23,
        fontFamily: serif ? "'Liberation Serif', 'DejaVu Serif', serif" : FONT,
        fontStyle: serif ? "normal" : "italic",
        fontWeight: serif ? "normal" : 600,
        fill: TEXT,
        align: "center",
        verticalAlign: "middle",
      },
      z: 10,
    });

    const boundarySeries = periodBoundaries.map((d) => ({
      type: "line",
      data: [
        [d, Y_MIN],
        [d, Y_MAX],
      ],
      symbol: "none",
      silent: true,
      z: 1,
      lineStyle: { color: "#8a8a8a", width: 1.5, type: [6, 5] },
    }));

    chart.setOption({
      animation: false,
      backgroundColor: "#ffffff",
      grid: { left: 117, right: 3, top: 15, bottom: 90, containLabel: false },
      xAxis: [
        {
          type: "value",
          min: X_MIN,
          max: X_MAX,
          position: "bottom",
          axisLine: { show: true, onZero: false, lineStyle: { color: AXIS_GREY, width: 2 } },
          axisTick: { show: true, customValues: xMinorDays, length: 7, lineStyle: { color: "#333", width: 1.5 } },
          axisLabel: { show: false },
          splitLine: { show: false },
        },
        {
          type: "value",
          min: X_MIN,
          max: X_MAX,
          position: "bottom",
          axisLine: { show: false, onZero: false },
          axisTick: { show: true, customValues: xMajorDays, length: 14, lineStyle: { color: "#333", width: 1.5 } },
          axisLabel: {
            show: true,
            customValues: xMajorDays,
            formatter: (v: number) => xMajorLabels[xMajorDays.indexOf(Math.round(v))] ?? "",
            fontSize: 20,
            fontFamily: FONT,
            color: TEXT,
            margin: 22,
          },
          splitLine: { show: false },
        },
        {
          type: "value",
          min: X_MIN,
          max: X_MAX,
          position: "top",
          axisLine: { show: true, onZero: false, lineStyle: { color: AXIS_GREY, width: 2 } },
          axisTick: { show: false },
          axisLabel: { show: false },
          splitLine: { show: false },
        },
      ],
      yAxis: [
        {
          type: "value",
          min: Y_MIN,
          max: Y_MAX,
          position: "left",
          axisLine: { show: true, onZero: false, lineStyle: { color: AXIS_GREY, width: 2 } },
          axisTick: { show: true, customValues: yTickValues, length: 14, lineStyle: { color: "#333", width: 1.5 } },
          axisLabel: {
            show: true,
            customValues: yTickValues,
            formatter: (v: number) => v.toFixed(1),
            fontSize: 20,
            fontFamily: FONT,
            color: TEXT,
            margin: 26,
          },
          splitLine: { show: false },
        },
        {
          type: "value",
          min: Y_MIN,
          max: Y_MAX,
          position: "right",
          axisLine: { show: true, onZero: false, lineStyle: { color: AXIS_GREY, width: 2 } },
          axisTick: { show: true, inside: true, customValues: yTickValues, length: 4, lineStyle: { color: "#333", width: 1.5 } },
          axisLabel: { show: false },
          splitLine: { show: false },
        },
      ],
      visualMap: {
        type: "continuous",
        show: false,
        dimension: 2,
        min: 0,
        max: 100,
        seriesIndex: periodBoundaries.length,
        inRange: { color: so2Colors },
      },
      series: [
        ...boundarySeries,
        {
          type: "scatter",
          data: points,
          symbol: "circle",
          symbolSize: 7,
          z: 3,
          silent: true,
          itemStyle: { opacity: 1 },
        },
      ],
      graphic: [
        {
          type: "text",
          x: 495,
          y: 763,
          style: {
            text: "Day of year (2013)",
            fontSize: 24,
            lineHeight: 24,
            fontFamily: FONT,
            fill: TEXT,
            align: "center",
            verticalAlign: "middle",
          },
        },
        {
          type: "text",
          x: 29,
          y: 350,
          rotation: Math.PI / 2,
          style: {
            text: "fraction of S as sulfate (f{s|S})",
            fontSize: 24,
            lineHeight: 28,
            fontFamily: FONT,
            fill: TEXT,
            align: "center",
            verticalAlign: "middle",
            rich: {
              s: { fontSize: 16, lineHeight: 13, verticalAlign: "bottom", fontFamily: FONT, fill: TEXT },
            },
          },
        },
        {
          type: "text",
          x: 787,
          y: 372,
          rotation: Math.PI / 2,
          style: {
            text: "SO{s|2} (ppb)",
            fontSize: 20,
            lineHeight: 24,
            fontFamily: FONT,
            fill: TEXT,
            align: "center",
            verticalAlign: "middle",
            rich: {
              s: { fontSize: 14, lineHeight: 11, verticalAlign: "bottom", fontFamily: FONT, fill: TEXT },
            },
          },
          z: 10,
        },
        annot("KMC", 229, 84),
        annot("Pahala", 503, 53),
        annot("(no trade winds)", 503, 85),
        annot("Pahala", 789, 53),
        annot("(trade winds)", 789, 85),
        annot("I", 174, 140, true),
        annot("II", 282, 140, true),
        annot("III", 425, 140, true),
        annot("IV", 573, 140, true),
        annot("V", 792, 140, true),
        ...cbElements,
      ],
    });

    return () => chart.dispose();
  }, []);

  return (
    <div
      ref={ref}
      style={{ position: "fixed", left: 0, top: 0, width: 929, height: 778, background: "#fff" }}
    />
  );
}
